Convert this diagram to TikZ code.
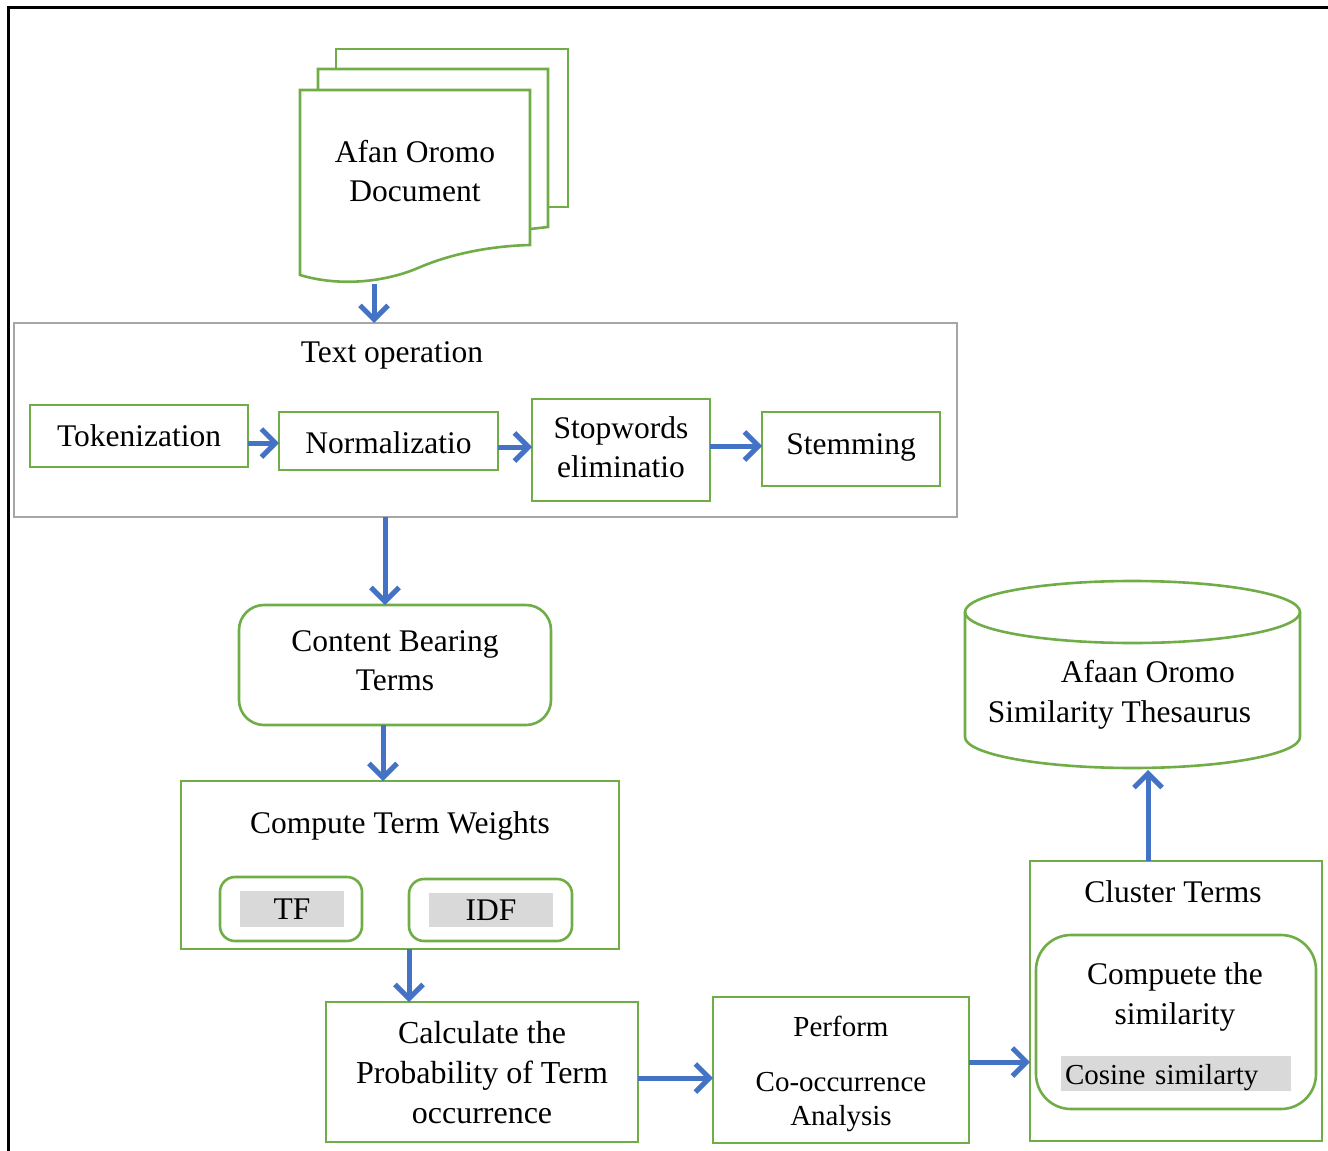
\documentclass[tikz,border=0pt]{standalone}
\usepackage{fontspec}
\setmainfont{Liberation Serif}
\usetikzlibrary{arrows.meta,calc}
\definecolor{grn}{HTML}{70AD47}
\definecolor{blu}{HTML}{4472C4}
\definecolor{tgray}{HTML}{A6A6A6}
\definecolor{hlgray}{HTML}{D9D9D9}
\newcommand{\shiftv}[2]{\raisebox{#1}[\height][\depth]{#2}}
\tikzset{
  gbox/.style={draw=grn, line width=2.6pt, inner sep=0pt, outer sep=0pt, align=center},
  rbox/.style={gbox, rounded corners=25pt},
  arr/.style={draw=blu, line width=5pt, -{Straight Barb[length=14pt,width=28pt]}},
  txt/.style={inner sep=0pt, outer sep=0pt, align=center},
  hl/.style={fill=hlgray, inner sep=0pt, outer sep=0pt},
  docline/.style={draw=grn, line width=2.6pt, line join=miter},
}
\begin{document}
\begin{tikzpicture}[x=1pt,y=-1pt,font=\fontsize{31.5}{39.5}\selectfont]
\useasboundingbox (0,0) rectangle (1328,1151);
% outer frame
\draw[line width=3pt] (8,1151) -- (8,7) -- (1328,7);

% document stack
\draw[docline] (336,69) -- (336,49) -- (568,49) -- (568,207) -- (548,207);
\draw[docline] (318,90) -- (318,69) -- (548,69) -- (548,227) -- (530,229);
\draw[docline, fill=white] (300,90) -- (530,90) -- (530,245)
   .. controls (490,246) and (450,254) .. (418,268)
   .. controls (385,282) and (340,287) .. (300,275) -- cycle;
\node[txt] (doc) at (415,171) {Afan Oromo\\Document};
\coordinate (docbot) at (374,284);

% text operation
\node[draw=tgray, line width=2.4pt, minimum width=943pt, minimum height=194pt, inner sep=0pt, outer sep=0pt] (textop) at (485.5,420) {};
\node[txt] (textoptitle) at (392,355) {Text operation};
\node[gbox, minimum width=218pt, minimum height=62pt] (tok) at (139,436) {Tokenization};
\node[gbox, minimum width=219pt, minimum height=58pt] (norm) at (388.5,441) {\shiftv{-2pt}{Normalizatio}};
\node[gbox, minimum width=178pt, minimum height=102pt] (stop) at (621,450) {\begin{tabular}{@{}c@{}}Stopwords\\eliminatio\end{tabular}};
\node[gbox, minimum width=178pt, minimum height=74pt] (stem) at (851,449) {\shiftv{2pt}{Stemming}};

% content bearing terms
\node[rbox, minimum width=312pt, minimum height=120pt] (content) at (395,665) {\shiftv{2pt}{\begin{tabular}{@{}c@{}}Content Bearing\\[-0.5pt]Terms\end{tabular}}};

% compute term weights
\node[gbox, minimum width=438pt, minimum height=168pt] (compute) at (400,865) {};
\node[txt] (computetitle) at (400,826) {Compute Term Weights};
\node[rbox, rounded corners=15pt, minimum width=142pt, minimum height=64pt] (tfbox) at (291,909) {};
\node[hl, minimum width=104pt, minimum height=36pt] (tf) at (292,909) {TF};
\node[rbox, rounded corners=15pt, minimum width=163pt, minimum height=62pt] (idfbox) at (490.5,910) {};
\node[hl, minimum width=124pt, minimum height=34pt] (idf) at (491,910) {IDF};

% calculate probability
\node[gbox, minimum width=312pt, minimum height=140pt, font=\fontsize{32}{40}\selectfont] (calc) at (482,1072) {\shiftv{-3pt}{\begin{tabular}{@{}c@{}}Calculate the\\Probability of Term\\occurrence\end{tabular}}};

% perform co-occurrence
\node[gbox, minimum width=256pt, minimum height=146pt, font=\fontsize{29}{34}\selectfont] (perf) at (841,1070) {\shiftv{-4pt}{\begin{tabular}{@{}c@{}}Perform\\[21pt]Co-occurrence\\Analysis\end{tabular}}};

% cluster terms
\node[gbox, minimum width=292pt, minimum height=280pt] (cluster) at (1176,1001) {};
\node[txt] (clustertitle) at (1173,892) {Cluster Terms};
\node[rbox, rounded corners=35pt, minimum width=280pt, minimum height=174pt] (sim) at (1176,1022) {};
\node[txt] (simtxt) at (1175,997) {Compuete the\\similarity};
\node[hl, anchor=west, minimum height=35pt, text width=222pt, inner xsep=4pt, align=left, font=\fontsize{29}{35}\selectfont] (cosine) at (1061,1073.5) {\shiftv{-4pt}{Cosine similarty}};

% thesaurus cylinder
\draw[draw=grn, line width=2.6pt] (965,612) -- (965,737)
   .. controls (965,754.1) and (1040,768) .. (1132.5,768)
   .. controls (1225,768) and (1300,754.1) .. (1300,737) -- (1300,612);
\draw[draw=grn, line width=2.6pt] (1132.5,612) ellipse [x radius=167.5, y radius=31];
\node[txt, align=left] (thes) at (1119.5,695) {\hspace*{73pt}Afaan Oromo\\Similarity Thesaurus};
\coordinate (thesbot) at (1148,770);

% connectors
\draw[arr] (docbot) -- (docbot |- textop.north);
\draw[arr] ($(tok.east)+(0,7)$) -- ($(norm.west)+(0,2)$);
\draw[arr] ($(norm.east)+(0,6)$) -- ($(stop.west)+(0,-3)$);
\draw[arr] ($(stop.east)+(0,-4)$) -- ($(stem.west)+(0,-3)$);
\draw[arr] ($(textop.south -| content.north)+(-10,0)$) -- ($(content.north)+(-10,0)$);
\draw[arr] ($(content.south)+(-12,0)$) -- ($(compute.north)+(-17,0)$);
\draw[arr] ($(compute.south)+(9,0)$) -- ($(calc.north)+(-73,0)$);
\draw[arr] ($(calc.east)+(0,6)$) -- ($(perf.west)+(0,8)$);
\draw[arr] ($(perf.east)+(0,-8)$) -- ($(cluster.west)+(0,61)$);
\draw[arr] ($(cluster.north)+(-28,0)$) -- (thesbot);
\end{tikzpicture}
\end{document}
